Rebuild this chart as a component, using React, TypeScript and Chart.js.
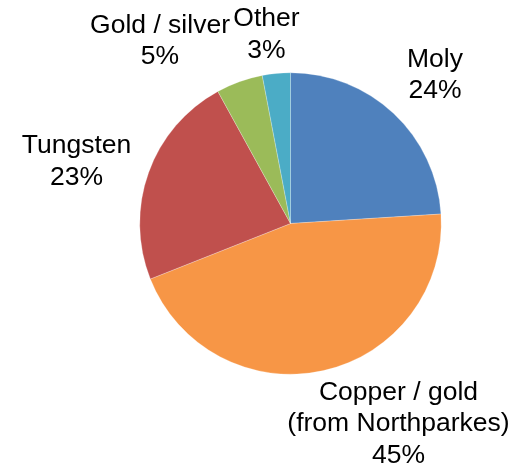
import React, { useEffect, useRef } from "react";
import { Chart, registerables } from "chart.js";

Chart.register(...registerables);

const categories = ["Moly", "Copper / gold (from Northparkes)", "Tungsten", "Gold / silver", "Other"];
const labelLines = [["Moly", "24%"], ["Copper / gold", "(from Northparkes)", "45%"], ["Tungsten", "23%"], ["Gold / silver", "5%"], ["Other", "3%"]];
const shares = [24, 45, 23, 5, 3];
const colors = ["#4F81BD", "#F79646", "#C0504D", "#9BBB59", "#4BACC6"];
// label block centre offsets from pie centre (px)
const labelOffsets = [[144.5, -148.5], [108, 200.5], [-214, -62], [-130.5, -182.5], [-24, -189]];

const labelPlugin = {
  id: "outerLabels",
  afterDatasetsDraw(chart: any) {
    const ctx = chart.ctx;
    const meta = chart.getDatasetMeta(0);
    const arc0 = meta.data[0];
    if (!arc0) return;
    const cx = arc0.x;
    const cy = arc0.y;
    const lh = 31.5;
    ctx.save();
    ctx.font = "26.5px 'Liberation Sans', Arial, sans-serif";
    ctx.fillStyle = "#000000";
    ctx.textAlign = "center";
    ctx.textBaseline = "middle";
    labelLines.forEach((lines, i) => {
      const [ox, oy] = labelOffsets[i];
      const x = cx + ox;
      const y0 = cy + oy - ((lines.length - 1) * lh) / 2;
      lines.forEach((t, j) => ctx.fillText(t, x, y0 + j * lh));
    });
    ctx.restore();
  },
};

export default function App() {
  const ref = useRef<HTMLCanvasElement | null>(null);
  useEffect(() => {
    document.body.style.margin = "0";
    const chart = new Chart(ref.current as HTMLCanvasElement, {
      type: "pie",
      data: {
        labels: categories,
        datasets: [
          {
            data: shares,
            backgroundColor: colors,
            borderColor: "rgba(255,255,255,0.5)",
            borderWidth: 0.5,
          },
        ],
      },
      options: {
        responsive: false,
        animation: false,
        layout: { padding: { left: 139.5, right: 79.5, top: 72.5, bottom: 90.5 } },
        plugins: { legend: { display: false }, tooltip: { enabled: false } },
      },
      plugins: [labelPlugin],
    });
    return () => chart.destroy();
  }, []);
  return (
    <div style={{ width: 521, height: 465, background: "#ffffff" }}>
      <canvas ref={ref} width={521} height={465} style={{ display: "block" }} />
    </div>
  );
}
